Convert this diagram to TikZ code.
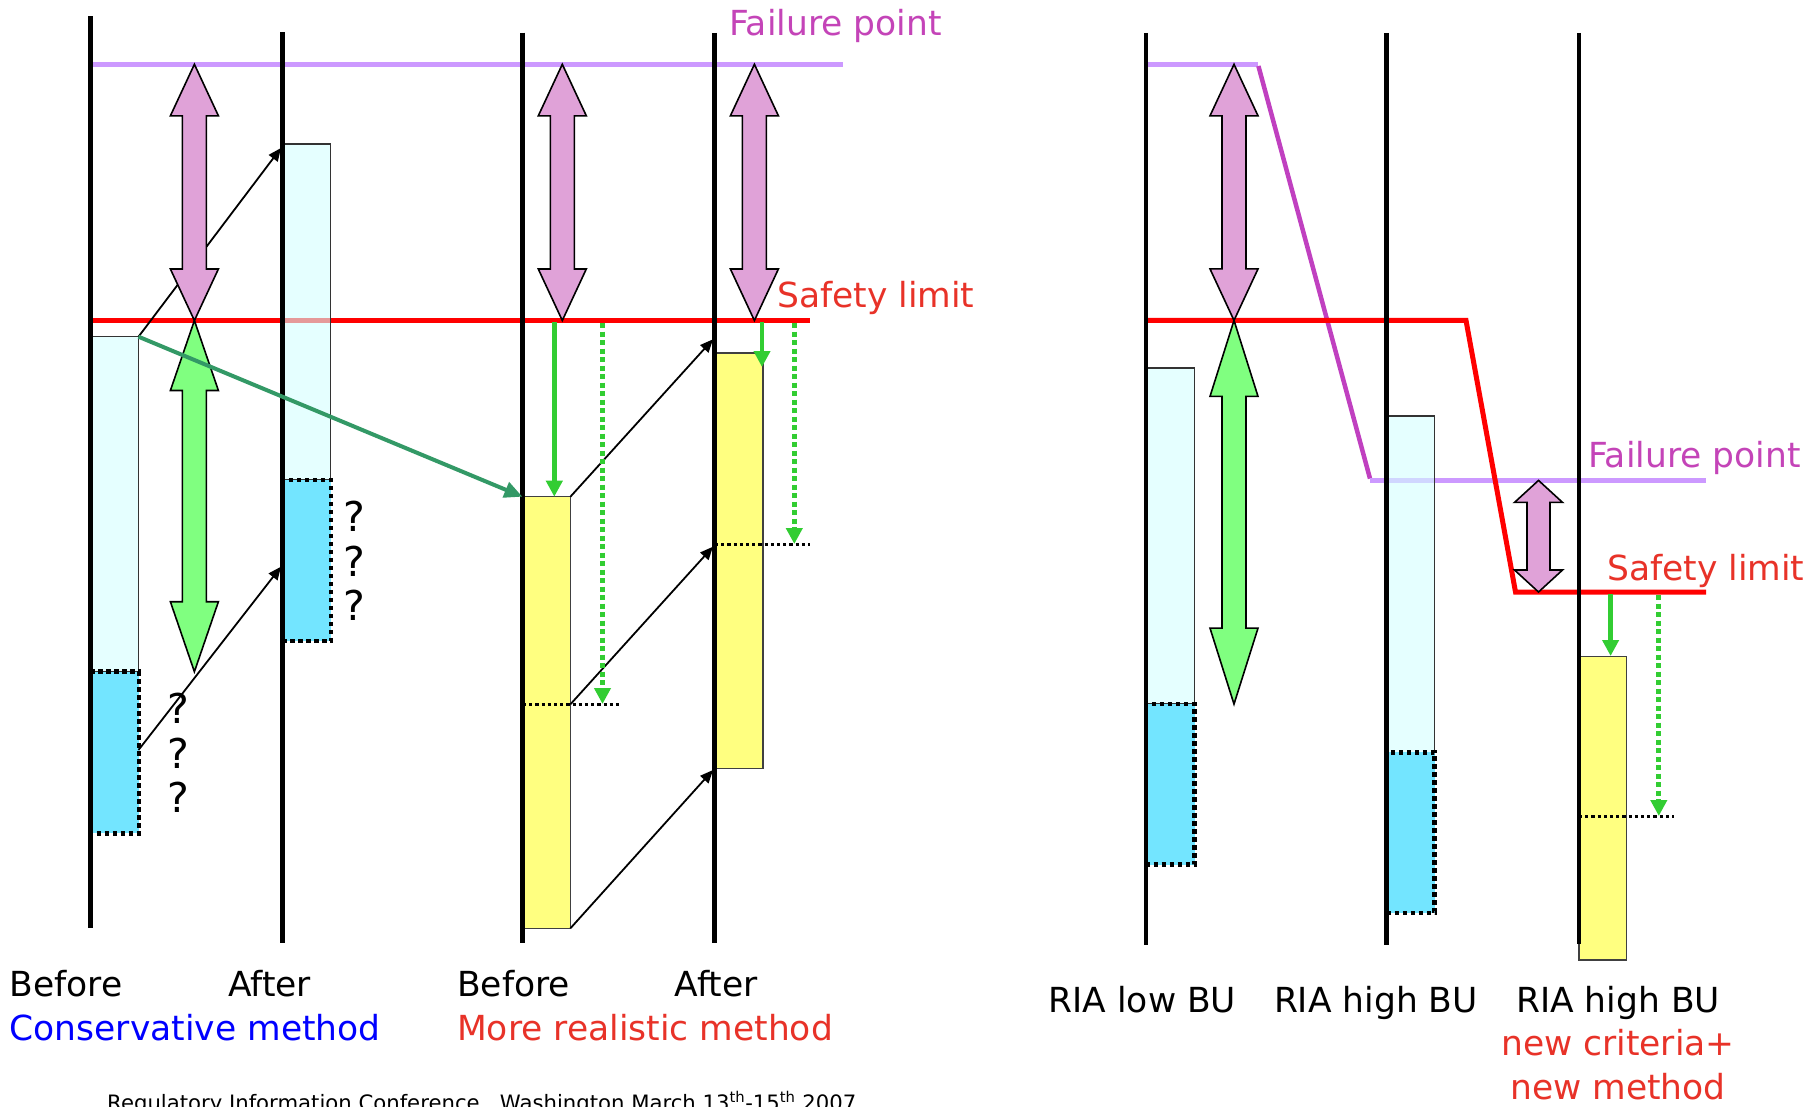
\documentclass[tikz,border=0pt]{standalone}
\usepackage{fontspec}
\setmainfont{DejaVu Sans}
\usetikzlibrary{arrows.meta}
\definecolor{barcyan}{RGB}{212,255,255}
\definecolor{barblue}{RGB}{115,229,255}
\definecolor{baryel}{RGB}{255,255,128}
\definecolor{pinkfill}{RGB}{224,162,216}
\definecolor{greenfill}{RGB}{128,255,128}
\definecolor{gline}{RGB}{50,205,50}
\definecolor{tealline}{RGB}{51,153,102}
\definecolor{lavline}{RGB}{204,153,255}
\definecolor{magline}{RGB}{192,64,192}
\definecolor{redline}{RGB}{255,0,0}
\definecolor{magtext}{RGB}{196,68,184}
\definecolor{redtext}{RGB}{232,50,40}
\definecolor{bluetext}{RGB}{0,0,255}
\newcommand\dblblock[7]{%
  \draw[blockstyle, fill=#7] (#1,#2) -- ({#1+#5},{#2+#4}) -- ({#1+#6},{#2+#4})
    -- ({#1+#6},{#3-#4}) -- ({#1+#5},{#3-#4}) -- (#1,#3) -- ({#1-#5},{#3-#4})
    -- ({#1-#6},{#3-#4}) -- ({#1-#6},{#2+#4}) -- ({#1-#5},{#2+#4}) -- cycle;}
\begin{document}
\begin{tikzpicture}[x=1pt,y=-1pt,
  vline/.style={line width=4.5pt, black},
  lavrule/.style={line width=5pt, lavline},
  redrule/.style={line width=5pt, redline},
  lightbar/.style={draw=black!80, line width=1.5pt, fill=barcyan, fill opacity=0.6},
  bluebox/.style={fill=barblue, draw=black, line width=4.5pt, dash pattern=on 4.5pt off 3.5pt},
  yelbar/.style={fill=baryel, draw=black!75, line width=1.5pt},
  thinarrow/.style={line width=1.8pt, -{Triangle[length=13pt,width=11pt]}},
  tealarrow/.style={line width=4pt, tealline, -{Triangle[length=18pt,width=16pt]}},
  garrow/.style={line width=4.8pt, gline, -{Triangle[length=16pt,width=16pt]}},
  gdots/.style={garrow, line width=5pt, dash pattern=on 5pt off 3.5pt},
  bdots/.style={line width=3.2pt, black, dash pattern=on 3.2pt off 3pt},
  blockstyle/.style={draw=black, line width=1.6pt, line join=miter},
  lbl/.style={inner sep=0pt, anchor=base west, font=\fontsize{34.5}{40}\selectfont},
  qm/.style={inner sep=0pt, anchor=base, font=\fontsize{41}{46}\selectfont}]
\useasboundingbox (0,0) rectangle (1820,1106);
\clip (0,0) rectangle (1820,1106);
\fill[white] (0,0) rectangle (1820,1106);

% ---------- horizontal limit lines ----------
\draw[lavrule] (90,64.3) -- (842.5,64.3);
\draw[redrule] (90,320.5) -- (810.4,320.5);
\draw[lavrule] (1146,64.3) -- (1258.4,64.3);
\draw[line width=4.5pt, magline] (1258.4,66) -- (1370,478.6);
\draw[lavrule] (1370,480.4) -- (1706,480.4);
\draw[redrule, line join=miter] (1146,320.4) -- (1466,320.4) -- (1515.5,592) -- (1706,592);

% ---------- named points ----------
\coordinate (b1tr) at (138.5,336.7);
\coordinate (b1mr) at (138.5,750);
\coordinate (v2a) at (281,148);
\coordinate (v2b) at (281,566.7);
\coordinate (y1tl) at (522.4,496.7);
\coordinate (y1tr) at (570.4,496.7);
\coordinate (y1mr) at (570.4,704.3);
\coordinate (y1br) at (570.4,928.3);
\coordinate (v4a) at (713,339.3);
\coordinate (v4b) at (713,546.7);
\coordinate (v4c) at (713,770);

% ---------- bars ----------
\draw[lightbar] (91,336.7) rectangle (138.5,671.7);
\draw[bluebox] (90.3,671.7) rectangle (139,833.3);
\draw[lightbar] (283.2,144) rectangle (330.7,480);
\draw[bluebox] (283,480) rectangle (331,641);
\draw[yelbar] (522.9,496.7) rectangle (570.4,928.3);
\draw[yelbar] (715.7,352.9) rectangle (762.9,768.3);
\draw[lightbar] (1147.3,367.9) rectangle (1194.6,704.1);
\draw[bluebox] (1146,704.1) rectangle (1194.6,864.5);
\draw[lightbar] (1387.4,416.1) rectangle (1434.7,752.4);
\draw[bluebox] (1387,752.4) rectangle (1434.7,912.8);
\draw[yelbar] (1578.9,656.6) rectangle (1626.6,960);

% ---------- vertical axes ----------
\draw[vline] (90.3,16) -- (90.3,928.3);
\draw[vline] (282.4,32.3) -- (282.4,943.3);
\draw[vline] (522.4,32.6) -- (522.4,943.3);
\draw[vline] (714.6,32.9) -- (714.6,943.3);
\draw[vline] (1146,32.9) -- (1146,944.5);
\draw[vline] (1386.5,32.9) -- (1386.5,944.5);
\draw[vline] (1578.9,32.9) -- (1578.9,943.8);

% ---------- thin arrows ----------
\draw[thinarrow] (b1tr) -- (v2a);
\draw[thinarrow] (b1mr) -- (v2b);
\draw[thinarrow] (y1tr) -- (v4a);
\draw[thinarrow] (y1mr) -- (v4b);
\draw[thinarrow] (y1br) -- (v4c);

% ---------- block arrows ----------
\dblblock{194.4}{64.3}{320.5}{51.5}{24}{12}{pinkfill}
\dblblock{562.3}{64.3}{320.5}{51.5}{24}{12}{pinkfill}
\dblblock{754.4}{64.3}{320.5}{51.5}{24}{12}{pinkfill}
\dblblock{1234}{64.3}{320.4}{51.5}{24}{12}{pinkfill}
\dblblock{194.4}{320.5}{671.7}{70}{24}{12}{greenfill}
\dblblock{1234}{320.4}{704.1}{76}{24}{12}{greenfill}
\dblblock{1538.5}{480.4}{592}{22}{24}{11.5}{pinkfill}

% ---------- teal and green arrows ----------
\draw[tealarrow] (b1tr) -- (y1tl);
\coordinate (g1s) at (554.3,322); \coordinate (g1e) at (554.3,496.7);
\coordinate (g2s) at (762,322);   \coordinate (g2e) at (762,367);
\coordinate (g3s) at (1610.6,594); \coordinate (g3e) at (1610.6,656);
\draw[garrow] (g1s) -- (g1e);
\draw[garrow] (g2s) -- (g2e);
\draw[garrow] (g3s) -- (g3e);
\coordinate (d1s) at (602.5,323); \coordinate (d1e) at (602.5,704);
\coordinate (d2s) at (794.3,323); \coordinate (d2e) at (794.3,544);
\coordinate (d3s) at (1658.8,595); \coordinate (d3e) at (1658.8,816);
\draw[gdots] (d1s) -- (d1e);
\draw[gdots] (d2s) -- (d2e);
\draw[gdots] (d3s) -- (d3e);

% ---------- dotted reference lines ----------
\coordinate (l1a) at (522.9,704.3); \coordinate (l1b) at (618.6,704.3);
\coordinate (l2a) at (715,544.5);   \coordinate (l2b) at (810.4,544.5);
\coordinate (l3a) at (1579,816.2);  \coordinate (l3b) at (1674,816.2);
\draw[bdots] (l1a) -- (l1b);
\draw[bdots] (l2a) -- (l2b);
\draw[bdots] (l3a) -- (l3b);

% ---------- question marks ----------
\node[qm] (q1) at (178,723) {?};
\node[qm] (q2) at (178,768) {?};
\node[qm] (q3) at (178,812) {?};
\node[qm] (q4) at (354,531.7) {?};
\node[qm] (q5) at (354,576.7) {?};
\node[qm] (q6) at (354,620) {?};

% ---------- labels ----------
\node[lbl, text=magtext] (fp1) at (729,35.7) {Failure point};
\node[lbl, text=redtext] (sl1) at (777,307) {Safety limit};
\node[lbl, text=magtext] (fp2) at (1588,467.9) {Failure point};
\node[lbl, text=redtext] (sl2) at (1607,580) {Safety limit};

\node[lbl] (bf1) at (9.5,996) {Before};
\node[lbl] (af1) at (228,996) {After};
\node[lbl] (bf2) at (457,996) {Before};
\node[lbl] (af2) at (674.5,996) {After};
\node[lbl, text=bluetext] (cm) at (9.5,1040) {Conservative method};
\node[lbl, text=redtext] (rm) at (457,1040) {More realistic method};

\node[lbl] (ria1) at (1048.5,1012.2) {RIA low BU};
\node[lbl] (ria2) at (1273.8,1012.2) {RIA high BU};
\node[lbl, anchor=base] (ria3) at (1618,1012.2) {RIA high BU};
\node[lbl, anchor=base, text=redtext] (nc) at (1618,1055.9) {new criteria+};
\node[lbl, anchor=base, text=redtext] (nm) at (1618,1099) {new method};

\node[inner sep=0pt, anchor=base west, font=\fontsize{21.2}{24}\selectfont] (foot) at (107,1110)
  {Regulatory Information Conference,\ \ Washington March 13\textsuperscript{th}-15\textsuperscript{th} 2007};
\end{tikzpicture}
\end{document}
